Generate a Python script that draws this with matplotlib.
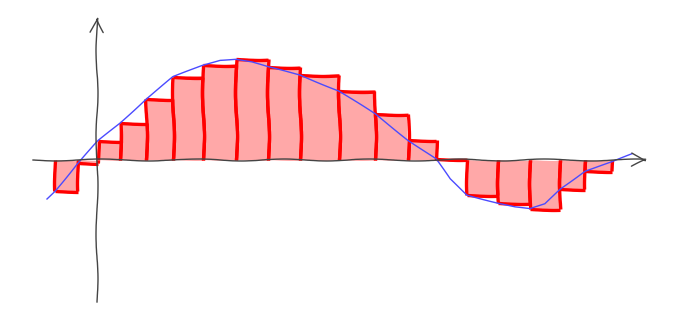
import numpy as np
import matplotlib
matplotlib.use('Agg')
import matplotlib.pyplot as plt

# Partition points of the Riemann sum (x units)
edges = [-4.2, -1.9, 0.1, 2.3, 4.9, 7.6, 10.6, 13.9, 17.1, 20.3,
         24.2, 27.8, 31.1, 33.9, 37.0, 40.1, 43.3, 46.3, 48.8, 51.5]
# Left-endpoint heights of each rectangle
heights = [-3.1, -0.3, 1.9, 3.7, 6.1, 8.3, 9.5, 10.1, 9.3, 8.5,
           6.9, 4.6, 2.0, 0.1, -3.5, -4.3, -4.9, -2.9, -1.1]

# Points
curve_x = [-5.0, -4.2, -1.9, 0.1, 2.3, 4.9, 7.6, 10.6, 12.3, 13.9, 15.5,
           17.1, 20.3, 24.2, 27.8, 31.1, 33.9, 35.3, 37.0, 40.1, 41.8,
           43.3, 44.8, 46.3, 48.8, 51.5, 53.5]
curve_y = [-3.9, -3.1, -0.3, 1.9, 3.7, 6.1, 8.3, 9.5, 10.0, 10.1, 9.8,
           9.3, 8.5, 6.9, 4.6, 2.0, 0.1, -1.9, -3.5, -4.3, -4.7,
           -4.9, -4.4, -2.9, -1.1, -0.2, 0.6]

plt.xkcd(scale=1, length=100, randomness=2)
plt.rcParams['path.effects'] = []  # no white halo around lines
plt.rcParams['font.family'] = ['DejaVu Sans']

fig = plt.figure(figsize=(6.78, 3.32), dpi=100)
ax = fig.add_axes([0, 0, 1, 1])
ax.set_xlim(-9.7, 58.1)
ax.set_ylim(-17.2, 16.0)
ax.axis('off')

# pink fills, outlined only on top and sides (bottom is the axis)
left = np.array(edges[:-1])
right = np.array(edges[1:])
h = np.array(heights)
ax.bar(left, h, width=right - left, align='edge', color='#ffa8a8',
       linewidth=0, zorder=1)
ax.hlines(h, left, right, color='red', lw=2.4, zorder=2)
ax.vlines(left, 0, h, color='red', lw=2.4, zorder=2)
ax.vlines(right, 0, h, color='red', lw=2.4, zorder=2)

# axes with arrows
ax.annotate('', xy=(55.3, 0), xytext=(-6.7, 0),
            arrowprops=dict(arrowstyle='->', color='#444444', lw=1.0,
                            mutation_scale=25), zorder=4)
ax.annotate('', xy=(0, 14.6), xytext=(0, -14.5),
            arrowprops=dict(arrowstyle='->', color='#444444', lw=1.0,
                            mutation_scale=25), zorder=4)

line, = ax.plot(curve_x, curve_y, color='#4b4bff', lw=1.0, zorder=3)
line.set_sketch_params(0.4, 100, 1)

fig.savefig('out.png', dpi=100)
